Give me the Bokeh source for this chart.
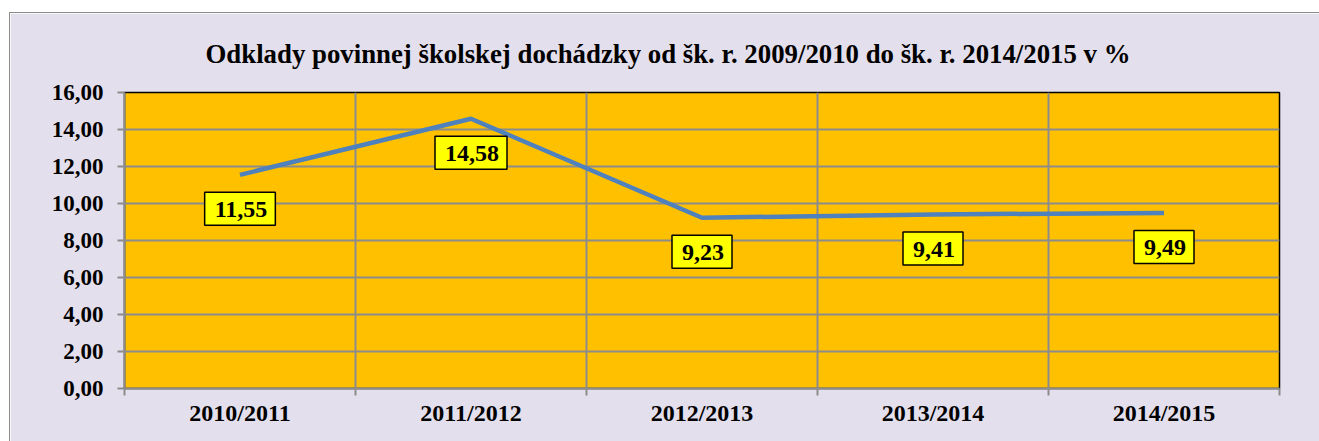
from bokeh.plotting import figure
from bokeh.models import ColumnDataSource, Label, FixedTicker, Range1d
from bokeh.embed import file_html
from bokeh.resources import INLINE

categories = ["2010/2011", "2011/2012", "2012/2013", "2013/2014", "2014/2015"]
values = [11.55, 14.58, 9.23, 9.41, 9.49]
y_ticks = [0, 2, 4, 6, 8, 10, 12, 14, 16]
y_tick_labels = ["0,00", "2,00", "4,00", "6,00", "8,00", "10,00", "12,00", "14,00", "16,00"]
title_text = "Odklady povinnej školskej dochádzky od šk. r. 2009/2010 do šk. r. 2014/2015 v %"

FONT = "Liberation Serif"
BG = "#E4DFEC"
PLOT_BG = "#FFC000"
GRID = "#8C8C8C"
LINE = "#4F81BD"

xs = [i + 0.5 for i in range(len(categories))]
labels = [f"{v:.2f}".replace(".", ",") for v in values]
src = ColumnDataSource(dict(x=xs, y=values, lab=labels))

p = figure(width=1310, height=429, output_backend="svg", toolbar_location=None,
           x_range=Range1d(0, len(categories)), y_range=Range1d(0, 16),
           min_border_left=114, min_border_right=41, min_border_top=77, min_border_bottom=54)
p.styles = {"border-top": "1px solid #8C8C8C", "border-left": "1px solid #8C8C8C",
            "box-sizing": "border-box", "margin-left": "9px", "margin-top": "12px"}

p.background_fill_color = PLOT_BG
p.border_fill_color = BG
p.outline_line_color = "black"
p.outline_line_width = 1.5

p.title.text = title_text
p.title.align = "left"
p.title.offset = 81
p.title.text_font = FONT
p.title.text_font_size = "26.8px"
p.title.text_font_style = "bold"
p.title.text_color = "black"
p.title.standoff = 47

p.line("x", "y", source=src, line_color=LINE, line_width=4.5)

for x, v, lab in zip(xs, values, labels):
    p.add_layout(Label(x=x, y=v, text=lab, y_offset=-34,
                       text_align="center", text_baseline="middle",
                       text_font=FONT, text_font_size="24px", text_font_style="bold", text_color="black",
                       background_fill_color="#FFFF00", border_line_color="black", border_line_width=1.5,
                       padding=(10, 8, 10, 8)))

# y axis
p.yaxis.ticker = FixedTicker(ticks=y_ticks)
p.yaxis.major_label_overrides = {t: l for t, l in zip(y_ticks, y_tick_labels)}
p.yaxis.major_label_text_font = FONT
p.yaxis.major_label_text_font_size = "23px"
p.yaxis.major_label_text_font_style = "bold"
p.yaxis.major_label_text_color = "black"
p.yaxis.major_tick_out = 7
p.yaxis.major_tick_in = 0
p.yaxis.major_tick_line_color = GRID
p.yaxis.major_tick_line_width = 2
p.yaxis.minor_tick_line_color = None
p.yaxis.axis_line_color = GRID
p.yaxis.axis_line_width = 2
p.yaxis.major_label_standoff = 14

# x axis
p.xaxis.ticker = FixedTicker(ticks=xs, minor_ticks=list(range(len(categories) + 1)))
p.xaxis.major_label_overrides = {x: c for x, c in zip(xs, categories)}
p.xaxis.major_label_text_font = FONT
p.xaxis.major_label_text_font_size = "24px"
p.xaxis.major_label_text_font_style = "bold"
p.xaxis.major_label_text_color = "black"
p.xaxis.major_tick_line_color = None
p.xaxis.major_tick_out = 0
p.xaxis.major_tick_in = 0
p.xaxis.minor_tick_out = 7
p.xaxis.minor_tick_in = 0
p.xaxis.minor_tick_line_color = GRID
p.xaxis.minor_tick_line_width = 2
p.xaxis.axis_line_color = GRID
p.xaxis.axis_line_width = 2
p.xaxis.major_label_standoff = 4

p.ygrid.ticker = FixedTicker(ticks=y_ticks)
p.ygrid.grid_line_color = GRID
p.ygrid.grid_line_width = 2
p.xgrid.ticker = FixedTicker(ticks=list(range(len(categories) + 1)))
p.xgrid.grid_line_color = GRID
p.xgrid.grid_line_width = 2

open("out.html", "w").write(file_html(p, INLINE))
